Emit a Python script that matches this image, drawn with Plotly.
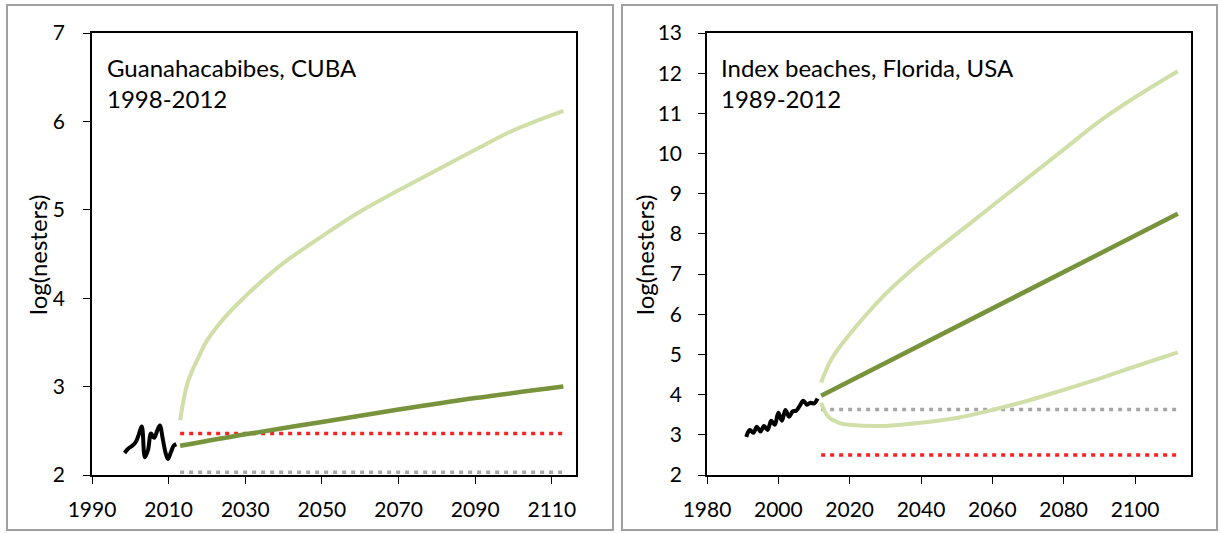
import plotly.graph_objects as go

W, H = 1221, 534

# ---------------- Left panel: Guanahacabibes, CUBA ----------------
cuba_obs_years = [1998.5, 1999.5, 2000.5, 2001.5, 2002.3, 2003.0, 2003.8, 2004.6, 2005.4, 2006.2, 2007.0, 2007.7, 2008.5, 2009.2, 2009.8, 2010.6, 2011.3, 2012.0]
cuba_obs_vals = [2.25, 2.30, 2.33, 2.38, 2.47, 2.55, 2.20, 2.28, 2.47, 2.42, 2.50, 2.56, 2.40, 2.25, 2.18, 2.26, 2.33, 2.35]

cuba_proj_years = [2013, 2015, 2018, 2020, 2025, 2030, 2035, 2040, 2050, 2060, 2070, 2080, 2090, 2100, 2113]
cuba_upper = [2.62, 3.05, 3.35, 3.52, 3.80, 4.02, 4.22, 4.40, 4.70, 4.98, 5.22, 5.45, 5.68, 5.90, 6.12]
cuba_mid_years = [2013, 2030, 2050, 2070, 2090, 2113]
cuba_mid = [2.33, 2.46, 2.60, 2.74, 2.87, 3.00]
cuba_ref_years = [2013, 2113]
cuba_red = [2.47, 2.47]
cuba_gray = [2.03, 2.03]

# ---------------- Right panel: Index beaches, Florida, USA ----------------
fl_obs_years = list(range(1991, 2012))
fl_obs_vals = [2.95, 3.12, 3.05, 3.20, 3.08, 3.22, 3.12, 3.35, 3.25, 3.55, 3.35, 3.62, 3.45, 3.58, 3.60, 3.72, 3.85, 3.75, 3.80, 3.78, 3.90]

fl_upper_years = [2012, 2015, 2020, 2030, 2040, 2050, 2060, 2070, 2080, 2090, 2100, 2112]
fl_upper = [4.30, 4.90, 5.50, 6.50, 7.30, 8.00, 8.70, 9.40, 10.10, 10.80, 11.40, 12.05]
fl_mid_years = [2012, 2112]
fl_mid = [3.97, 8.50]
fl_lower_years = [2012, 2014, 2017, 2020, 2030, 2040, 2050, 2060, 2070, 2080, 2090, 2100, 2112]
fl_lower = [3.80, 3.45, 3.30, 3.25, 3.22, 3.30, 3.42, 3.62, 3.85, 4.12, 4.40, 4.70, 5.05]
fl_ref_years = [2012, 2112]
fl_gray = [3.63, 3.63]
fl_red = [2.50, 2.50]

LIGHT = "#d0dfa8"
DARK = "#77933c"
RED = "#ff2020"
GRAY = "#a6a6a6"
FONT = "Lato"

fig = go.Figure()

def add(x, y, xa, ya, color, width, dash="solid", shape="spline"):
    fig.add_trace(go.Scatter(x=x, y=y, xaxis=xa, yaxis=ya, mode="lines",
                             line=dict(color=color, width=width, dash=dash, shape=shape),
                             showlegend=False, hoverinfo="skip"))

# left
add(cuba_ref_years, cuba_gray, "x", "y", GRAY, 3.5, "4px,5px", "linear")
add(cuba_ref_years, cuba_red, "x", "y", RED, 3.5, "4px,5px", "linear")
add(cuba_proj_years, cuba_upper, "x", "y", LIGHT, 4)
add(cuba_mid_years, cuba_mid, "x", "y", DARK, 4.5)
add(cuba_obs_years, cuba_obs_vals, "x", "y", "black", 4)

# right
add(fl_ref_years, fl_gray, "x2", "y2", GRAY, 3.5, "4px,5px", "linear")
add(fl_ref_years, fl_red, "x2", "y2", RED, 3.5, "4px,5px", "linear")
add(fl_upper_years, fl_upper, "x2", "y2", LIGHT, 4)
add(fl_lower_years, fl_lower, "x2", "y2", LIGHT, 4)
add(fl_mid_years, fl_mid, "x2", "y2", DARK, 4.5)
add(fl_obs_years, fl_obs_vals, "x2", "y2", "black", 4)

def px(x):
    return x / W

def py(y):
    return 1 - y / H

axis_common = dict(showline=True, linecolor="black", linewidth=1.5, mirror=True,
                   showgrid=False, zeroline=False, ticks="outside", ticklen=7,
                   tickcolor="black", tickwidth=1.2, automargin=False,
                   tickfont=dict(family=FONT, size=21, color="black"))

fig.update_layout(
    width=W, height=H,
    margin=dict(l=0, r=0, t=0, b=0, pad=0),
    paper_bgcolor="white", plot_bgcolor="white",
    xaxis=dict(domain=[px(92), px(576)], range=[1990, 2116.3], tickvals=[1990, 2010, 2030, 2050, 2070, 2090, 2110],
               anchor="y", ticklabelstandoff=8, **axis_common),
    yaxis=dict(domain=[py(475), py(33)], range=[2, 7], tickvals=[2, 3, 4, 5, 6, 7],
               anchor="x", ticklabelstandoff=14, **axis_common),
    xaxis2=dict(domain=[px(707), px(1191)], range=[1980, 2115.7], tickvals=[1980, 2000, 2020, 2040, 2060, 2080, 2100],
                anchor="y2", ticklabelstandoff=8, **axis_common),
    yaxis2=dict(domain=[py(475), py(33)], range=[2, 13], tickvals=list(range(2, 14)),
                anchor="x2", ticklabelstandoff=12, **axis_common),
)

# outer panel borders
fig.add_shape(type="rect", xref="paper", yref="paper", x0=px(7), x1=px(613), y0=py(530), y1=py(5),
              line=dict(color="#a0a0a0", width=2), fillcolor="rgba(0,0,0,0)", layer="below")
fig.add_shape(type="rect", xref="paper", yref="paper", x0=px(622), x1=px(1217), y0=py(530), y1=py(5),
              line=dict(color="#a0a0a0", width=2), fillcolor="rgba(0,0,0,0)", layer="below")

tfont = dict(family=FONT, size=24, color="black")
fig.add_annotation(xref="paper", yref="paper", x=px(105), y=py(83), xanchor="left", yanchor="middle",
                   text="Guanahacabibes, CUBA<br>1998-2012", showarrow=False, align="left", font=tfont)
fig.add_annotation(xref="paper", yref="paper", x=px(719), y=py(83), xanchor="left", yanchor="middle",
                   text="Index beaches, Florida, USA<br>1989-2012", showarrow=False, align="left", font=tfont)
fig.add_annotation(xref="paper", yref="paper", x=px(38), y=py(255), xanchor="center", yanchor="middle",
                   text="log(nesters)", textangle=-90, showarrow=False, font=dict(family=FONT, size=24, color="black"))
fig.add_annotation(xref="paper", yref="paper", x=px(645), y=py(255), xanchor="center", yanchor="middle",
                   text="log(nesters)", textangle=-90, showarrow=False, font=dict(family=FONT, size=24, color="black"))

fig.write_html("out.html")
